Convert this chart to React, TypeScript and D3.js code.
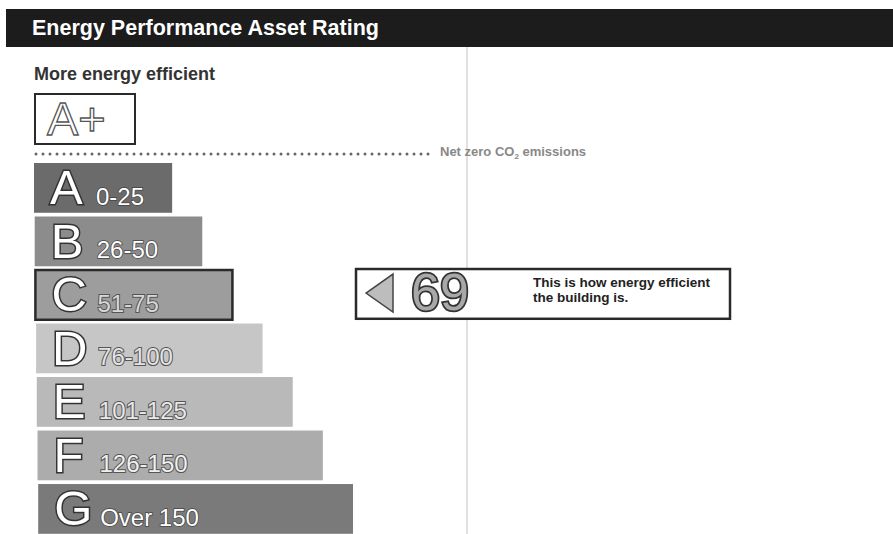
import React from "react";
import * as d3 from "d3";

const bandLetters = ["A", "B", "C", "D", "E", "F", "G"];
const bandRanges = ["0-25", "26-50", "51-75", "76-100", "101-125", "126-150", "Over 150"];
const bandUpper = [25, 50, 75, 100, 125, 150, 175];
const bandFills = ["#6b6b6b", "#8c8c8c", "#9d9d9d", "#c6c6c6", "#b9b9b9", "#acacac", "#7a7a7a"];
const rangeFills = ["#ffffff", "#ffffff", "#d8d8d8", "#e4e4e4", "#e8e8e8", "#f0f0f0", "#ffffff"];
const ratingValue = 69;
const titleText = "Energy Performance Asset Rating";
const topLabel = "More energy efficient";
const netZeroLabel = "Net zero CO";
const indicatorLines = ["This is how energy efficient", "the building is."];

const W = 893;
const H = 534;
const FONT = "'Liberation Sans', Arial, sans-serif";

export default function App() {
  const x = d3.scaleLinear().domain([0, 175]).range([142, 353]);
  const y = d3.scaleBand<number>().domain(d3.range(7)).range([163, 533.8]).paddingInner(0.07).paddingOuter(0);
  const barLeft = 34;
  const ratingIdx = bandUpper.findIndex((u) => ratingValue <= u);
  const iy = y(ratingIdx)!;
  const ih = y.bandwidth();

  const dots = d3.range(36, 430, 7);

  return (
    <div style={{ position: "fixed", left: 0, top: 0, width: W, height: H, overflow: "hidden" }}>
      <svg width={W} height={H} style={{ display: "block", background: "#fff" }}>
        {/* fold line */}
        <line x1={467} x2={467} y1={46} y2={H} stroke="#d6d6d6" strokeWidth={1.5} />
        {/* title bar */}
        <rect x={6} y={9} width={W - 6} height={38} fill="#1c1c1c" />
        <text x={32} y={35} fill="#fff" fontFamily={FONT} fontWeight="bold" fontSize={21.5}>
          {titleText}
        </text>
        <text x={34} y={80} fill="#333" fontFamily={FONT} fontWeight="bold" fontSize={18}>
          {topLabel}
        </text>
        {/* A+ box */}
        <rect x={35} y={94} width={100} height={50} fill="#fff" stroke="#2a2a2a" strokeWidth={2} />
        <text x={47} y={135} fill="#fff" stroke="#555" strokeWidth={1.3} fontFamily={FONT} fontSize={47}>
          A+
        </text>
        {/* dotted net zero line */}
        {dots.map((d) => (
          <circle key={d} cx={d} cy={154} r={1.5} fill="#666" />
        ))}
        <text x={440} y={156} fill="#888" fontFamily={FONT} fontWeight="bold" fontSize={13}>
          {netZeroLabel}
          <tspan fontSize={8} dy={3}>2</tspan>
          <tspan dy={-3}> emissions</tspan>
        </text>
        {/* bands */}
        {bandLetters.map((L, i) => {
          const top = y(i)!;
          const h = y.bandwidth();
          const left = barLeft + i * 0.7;
          const isC = i === ratingIdx;
          return (
            <g key={L}>
              <rect
                x={left}
                y={top}
                width={x(bandUpper[i]) - left}
                height={h}
                fill={bandFills[i]}
                stroke={isC ? "#2a2a2a" : "none"}
                strokeWidth={isC ? 2.5 : 0}
              />
              <text
                x={left + 16}
                y={top + 41}
                fill="#fff"
                stroke="#333"
                strokeWidth={3}
                paintOrder="stroke"
                fontFamily={FONT}
                fontSize={49}
              >
                {L}
              </text>
              <text
                x={left + 62}
                y={top + 41.5}
                fill={rangeFills[i]}
                stroke={i < 2 || i === 6 ? "#444" : "#555"}
                strokeWidth={i < 2 || i === 6 ? 1.5 : 2}
                paintOrder="stroke"
                fontFamily={FONT}
                fontSize={24}
              >
                {bandRanges[i]}
              </text>
            </g>
          );
        })}
        {/* indicator */}
        <rect x={356} y={iy - 1} width={374} height={ih} fill="#fff" stroke="#2a2a2a" strokeWidth={2.5} />
        <path
          d={`M366,${iy + 23} L393,${iy + 4} L393,${iy + 42} Z`}
          fill="#bdbdbd"
          stroke="#444"
          strokeWidth={1.5}
        />
        <text
          x={411}
          y={iy + 40}
          fill="#a8a8a8"
          stroke="#333"
          strokeWidth={3.5}
          paintOrder="stroke"
          fontFamily={FONT}
          fontSize={52}
        >
          {ratingValue}
        </text>
        {indicatorLines.map((t, k) => (
          <text key={k} x={533} y={iy + 17 + k * 15} fill="#222" fontFamily={FONT} fontWeight="bold" fontSize={13.5}>
            {t}
          </text>
        ))}
      </svg>
    </div>
  );
}
